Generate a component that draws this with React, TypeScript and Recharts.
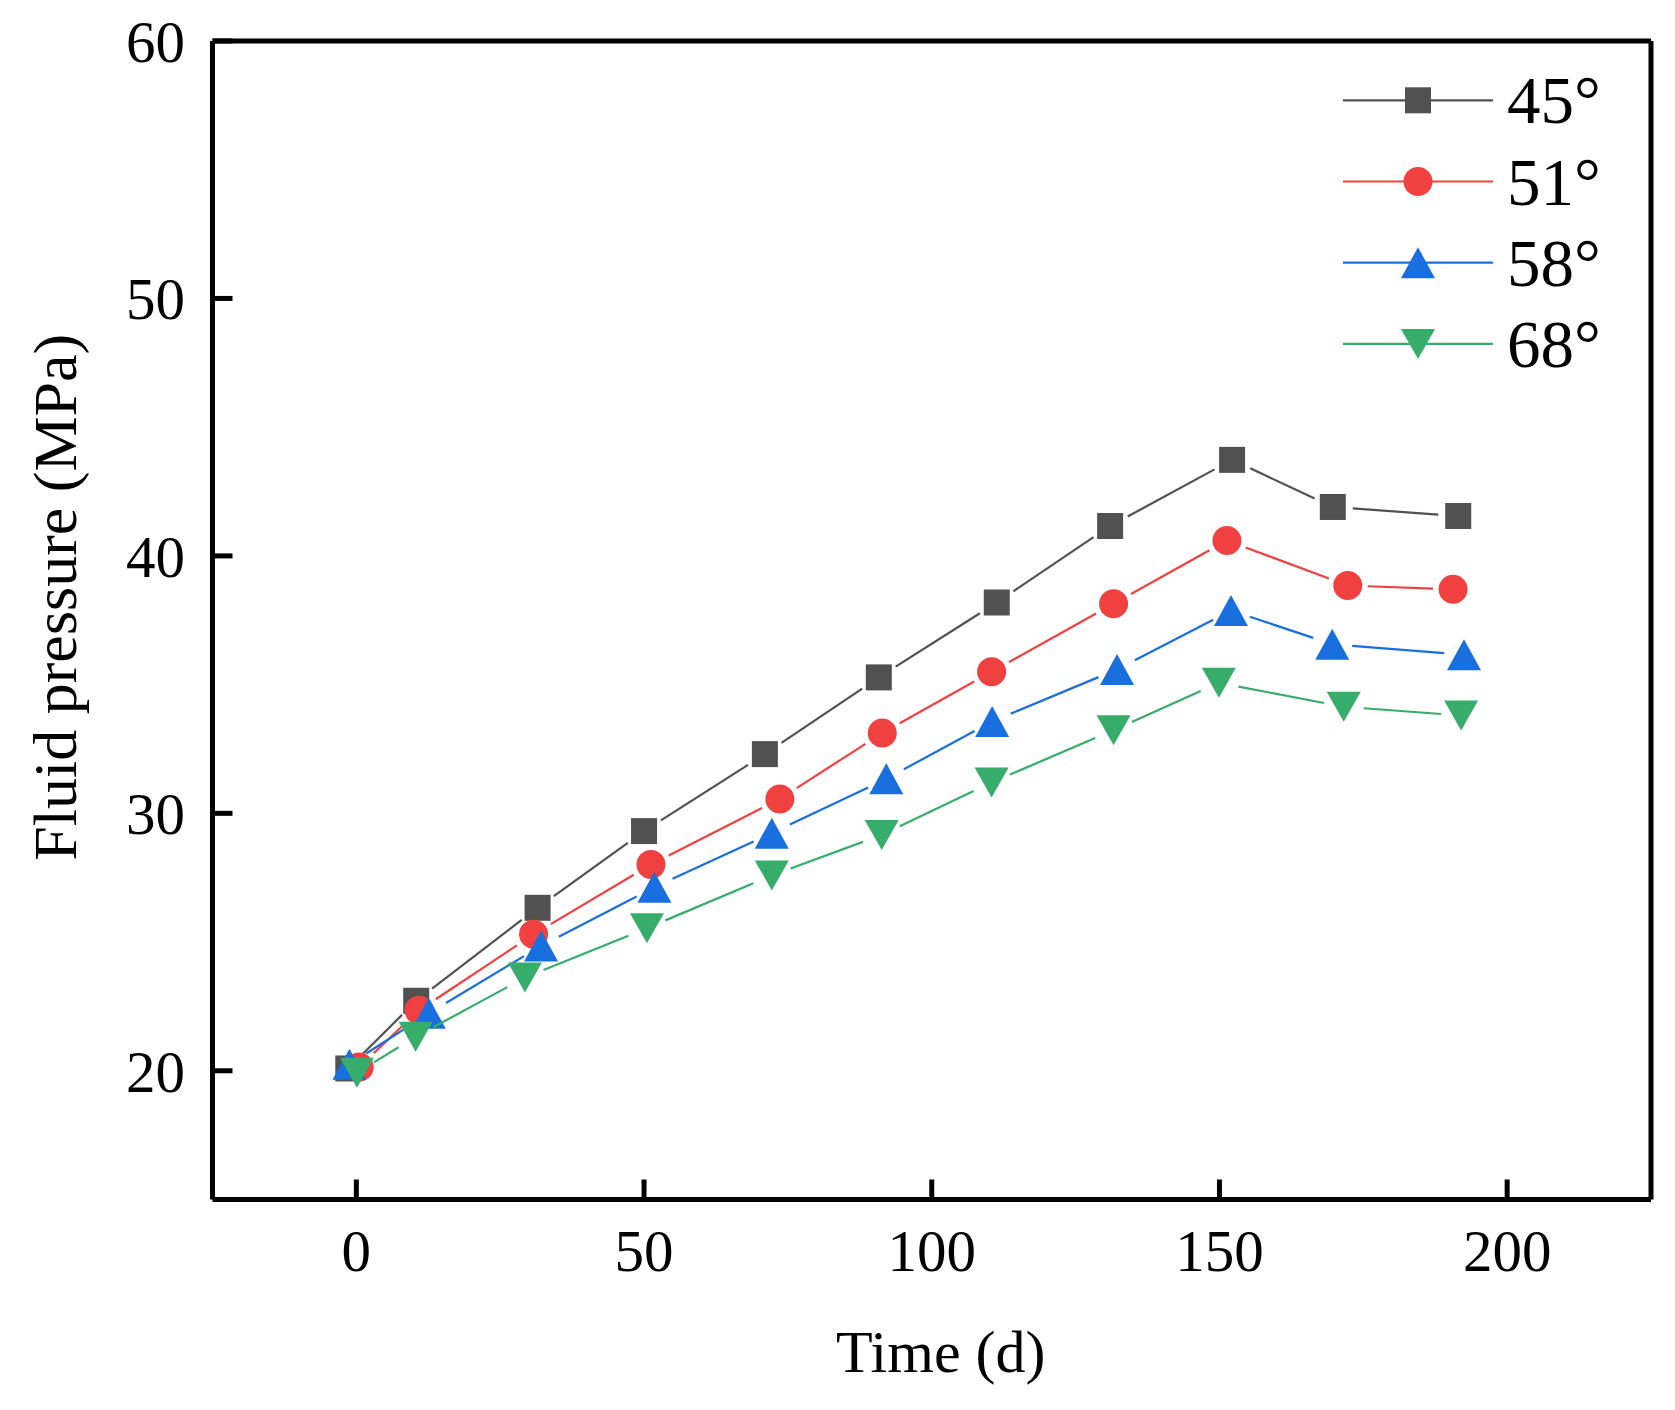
import { LineChart, Line, XAxis, YAxis, Legend, Label, ReferenceLine } from 'recharts';

// series
const SERIES_NAMES = ['45°', '51°', '58°', '68°'];
const COLORS = ['#515151', '#F14040', '#1A6FDF', '#37AD6B'];
const SHAPES = ['square', 'circle', 'triangle', 'down'];

const T_45 = [-1.4, 10.4, 31.5, 50.0, 71.0, 90.8, 111.3, 131.0, 152.2, 169.7, 191.5];
const P_45 = [20.09, 22.72, 26.33, 29.31, 32.3, 35.28, 38.19, 41.16, 43.73, 41.9, 41.55];

const T_51 = [0.5, 10.9, 30.8, 51.2, 73.6, 91.4, 110.4, 131.6, 151.3, 172.3, 190.6];
const P_51 = [20.15, 22.35, 25.3, 28.01, 30.56, 33.12, 35.5, 38.14, 40.6, 38.85, 38.7];

const T_58 = [-1.2, 12.6, 32.1, 51.8, 72.2, 92.1, 110.5, 132.2, 152.0, 169.6, 192.5];
const P_58 = [20.25, 22.23, 24.85, 27.13, 29.23, 31.34, 33.57, 35.59, 37.88, 36.57, 36.16];

const T_68 = [0.1, 10.3, 29.3, 50.5, 72.2, 91.3, 110.4, 131.6, 149.9, 171.6, 192.0];
const P_68 = [19.92, 21.32, 23.62, 25.54, 27.59, 29.16, 31.2, 33.23, 35.07, 34.14, 33.8];

const X_TICKS = [0, 50, 100, 150, 200];
const Y_TICKS = [20, 30, 40, 50, 60];
const X_DOMAIN = [-25, 225];
const Y_DOMAIN = [15, 60];

const TIMES = [T_45, T_51, T_58, T_68];
const PRESSURES = [P_45, P_51, P_58, P_68];

const FONT = 'Liberation Serif, Times New Roman, serif';
const GAP = 20;
const LINE_W = 2.2;

function Marker({ shape, x, y, color }: { shape: string; x: number; y: number; color: string }) {
  if (shape === 'square') return <rect x={x - 13} y={y - 13} width={26} height={26} fill={color} />;
  if (shape === 'circle') return <circle cx={x} cy={y} r={14.5} fill={color} />;
  if (shape === 'triangle')
    return <polygon points={`${x},${y - 15.5} ${x - 17},${y + 15.5} ${x + 17},${y + 15.5}`} fill={color} />;
  return <polygon points={`${x - 17},${y - 15} ${x + 17},${y - 15} ${x},${y + 15}`} fill={color} />;
}

// draws the marker plus the segment to the next point, cut short near both markers
function makeDot(color: string, shape: string) {
  return (props: any) => {
    const { cx, cy, index, points } = props;
    const next = points ? points[index + 1] : null;
    let seg = null;
    if (next) {
      const dx = next.x - cx;
      const dy = next.y - cy;
      const len = Math.hypot(dx, dy);
      if (len > 2 * GAP) {
        const ux = dx / len;
        const uy = dy / len;
        seg = (
          <line
            x1={cx + ux * GAP}
            y1={cy + uy * GAP}
            x2={next.x - ux * GAP}
            y2={next.y - uy * GAP}
            stroke={color}
            strokeWidth={LINE_W}
          />
        );
      }
    }
    return (
      <g key={`dot-${index}`}>
        {seg}
        <Marker shape={shape} x={cx} y={cy} color={color} />
      </g>
    );
  };
}

function LegendBox() {
  return (
    <svg width={330} height={340} style={{ display: 'block' }}>
      {SERIES_NAMES.map((name, i) => {
        const cy = 50.3 + i * 81.2;
        return (
          <g key={name}>
            <line x1={13} y1={cy} x2={163} y2={cy} stroke={COLORS[i]} strokeWidth={LINE_W} />
            <Marker shape={SHAPES[i]} x={88} y={cy} color={COLORS[i]} />
            <text x={177} y={cy + 23} fontSize={67} fontFamily={FONT} fill="#000">
              {name}
            </text>
          </g>
        );
      })}
    </svg>
  );
}

const tickStyle = { fill: '#000', fontSize: 59, fontFamily: FONT };
const axisStroke = { stroke: '#000', strokeWidth: 5 };

export default function App() {
  const series = SERIES_NAMES.map((name, i) => ({
    name,
    data: TIMES[i].map((t, j) => ({ t, p: PRESSURES[i][j] })),
  }));

  return (
    <div style={{ position: 'absolute', left: 0, top: 0, background: '#fff' }}>
      <LineChart width={1675} height={1410} margin={{ top: 41, right: 24, left: 0.5, bottom: 0 }}>
        <XAxis
          type="number"
          dataKey="t"
          domain={X_DOMAIN}
          ticks={X_TICKS}
          interval={0}
          allowDataOverflow
          height={210.5}
          tickSize={-20}
          tickMargin={50}
          axisLine={axisStroke}
          tickLine={axisStroke}
          tick={tickStyle}
        >
          <Label
            content={(props: any) => {
              const vb = props.viewBox || { x: 212.5, y: 1199.5, width: 1438.5 };
              return (
                <text x={vb.x + vb.width / 2 + 9} y={vb.y + 172} textAnchor="middle" fontSize={60} fontFamily={FONT} fill="#000">
                  Time (d)
                </text>
              );
            }}
          />
        </XAxis>
        <YAxis
          type="number"
          domain={Y_DOMAIN}
          ticks={Y_TICKS}
          interval={0}
          allowDataOverflow
          width={212}
          tickSize={-20}
          tickMargin={47.5}
          axisLine={axisStroke}
          tickLine={axisStroke}
          tick={tickStyle}
        >
          <Label
            content={(props: any) => {
              const vb = props.viewBox || { x: 0.5, y: 41, height: 1158.5 };
              const cx = 76;
              const cy = vb.y + vb.height / 2 - 23;
              return (
                <text x={cx} y={cy} transform={`rotate(-90, ${cx}, ${cy})`} textAnchor="middle" fontSize={62} fontFamily={FONT} fill="#000">
                  Fluid pressure (MPa)
                </text>
              );
            }}
          />
        </YAxis>
        {/* closing frame on top and right */}
        <ReferenceLine y={Y_DOMAIN[1]} stroke="#000" strokeWidth={5} ifOverflow="visible" />
        <ReferenceLine x={X_DOMAIN[1]} stroke="#000" strokeWidth={5} ifOverflow="visible" />
        {series.map((s, i) => (
          <Line
            key={s.name}
            name={s.name}
            data={s.data}
            dataKey="p"
            type="linear"
            stroke="none"
            dot={makeDot(COLORS[i], SHAPES[i])}
            activeDot={false}
            isAnimationActive={false}
          />
        ))}
        <Legend
          layout="vertical"
          align="center"
          verticalAlign="middle"
          content={() => <LegendBox />}
          wrapperStyle={{ left: 1330, top: 50, width: 330, height: 340 }}
        />
      </LineChart>
    </div>
  );
}
